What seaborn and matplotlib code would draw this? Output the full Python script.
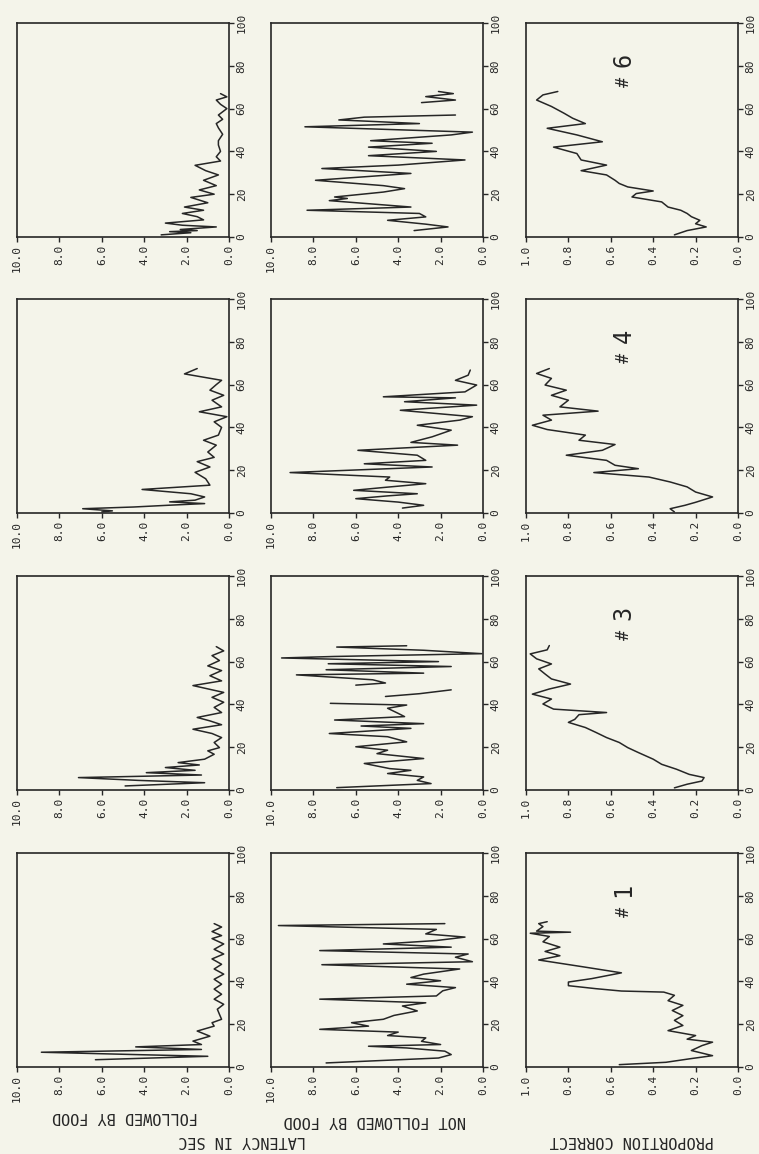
import numpy as np
import pandas as pd
import matplotlib
matplotlib.use('Agg')
import matplotlib.pyplot as plt
import seaborn as sns

nan = np.nan

# ---------------- data (trial number, value) ----------------
# Subject 6
t6_ff = [1, 2, 2.5, 3, 3.5, 4.7, 5.5, 6.5, 8, 9.5, 11, 12.5, 14, 16, 18.5, 20, 22, 24, 26.5, 29, 31, 33.5,
         35.5, 37.5, 40, 43, 45, 48, 51, 53, 55, 57, 60, 62, 64, 65.5, 67]
v6_ff = [3.2, 1.8, 2.8, 1.5, 2.3, 0.6, 2.2, 3.0, 1.2, 1.5, 2.2, 1.2, 2.1, 1.0, 1.8, 0.7, 1.4, 0.6, 1.2, 0.5, 1.1, 1.6,
         0.4, 0.6, 0.4, 0.5, 0.5, 0.3, 0.5, 0.6, 0.3, 0.5, 0.1, 0.4, 0.6, 0.1, 0.4]
t6_nf = [3, 4.7, 6, 7.8, 9.4, 11, 12.5, 14, 17, 18, 18.7, 21, 22.6, 24, 26.5, 29.7, 32, 33.6, 36, 38, 40, 42,
         43.8, 45, 47.7, 49, 51.5, 53, 54, 54.7, 56, 57, nan, 62.8, 64, 65.6, 67, 68]
v6_nf = [3.25, 1.65, 2.7, 4.5, 2.7, 3.0, 8.3, 3.4, 7.25, 6.4, 7.0, 4.7, 3.7, 4.7, 7.9, 3.4, 7.6, 4.0, 0.85, 5.4, 2.2, 5.4,
         2.4, 5.3, 1.5, 0.5, 8.4, 3.0, 5.2, 6.8, 5.6, 1.3, nan, 2.9, 1.3, 2.7, 1.4, 2.1]
t6_pc = [1, 3, 4.7, 6.2, 7.8, 9.5, 11, 12.5, 14, 16.4, 18.7, 20.3, 21.5, 23.4, 25, 26.5, 29, 31, 33.6, 36, 39, 42,
         44.5, 47.7, 50.8, 53, 55.5, 57.8, 61, 64, 66.4, 68]
v6_pc = [0.30, 0.24, 0.15, 0.20, 0.18, 0.22, 0.24, 0.27, 0.33, 0.36, 0.50, 0.48, 0.40, 0.52, 0.56, 0.58, 0.62, 0.74,
         0.62, 0.74, 0.76, 0.87, 0.64, 0.76, 0.90, 0.72, 0.78, 0.82, 0.88, 0.95, 0.92, 0.85]

# Subject 4
t4_ff = [0.5, 1, 2, 2.8, 3.6, 4.4, 5.2, 6, 7.5, 9, 11, 13, 16, 19, 21.5, 24, 26, 28.5, 31.7, 34, 36.4, 40, 42.6,
         45, 47.3, 49.6, 52.7, 55, 57.4, 60, 62, 65, 67.5]
v4_ff = [6.0, 5.5, 6.9, 4.5, 2.9, 1.15, 2.8, 1.6, 1.15, 1.8, 4.1, 0.9, 1.1, 1.6, 0.9, 1.5, 0.7, 1.0, 0.6, 1.2, 0.5,
         0.35, 0.7, 0.1, 1.4, 0.35, 0.8, 0.25, 0.9, 0.6, 0.35, 2.1, 1.5]
t4_nf = [2.3, 3.6, 5.1, 6.7, 8, 9, 10.6, 12, 13.7, 15.3, 16.8, 18.9, 21.5, 23, 24.6, 27, 29.3, 31.7, 33, 35.6, 38.7,
         41, 43.4, 45, 48, 50.4, 52, 53.8, 54.3, 56.6, 59.8, 62, 64.4, 66.8]
v4_nf = [3.8, 2.8, 4.0, 6.0, 4.5, 3.1, 6.1, 4.6, 2.7, 4.6, 4.4, 9.1, 2.4, 5.6, 2.7, 3.1, 5.9, 1.2, 3.4, 2.4, 1.5,
         3.1, 1.1, 0.5, 3.9, 0.3, 3.7, 1.3, 4.7, 0.85, 0.3, 1.3, 0.7, 0.6]
t4_pc = [0.5, 2, 3.6, 5, 7.5, 9.8, 12.2, 14.5, 16.8, 18.9, 20.7, 22.3, 24.6, 27, 29.3, 32, 34, 36.4, 39, 41, 43.4,
         45.7, 47.6, 49.6, 52.7, 55, 57.4, 59.8, 62.9, 65.2, 67.5]
v4_pc = [0.30, 0.32, 0.25, 0.20, 0.12, 0.20, 0.24, 0.32, 0.42, 0.68, 0.47, 0.58, 0.62, 0.81, 0.64, 0.58, 0.75, 0.72,
         0.90, 0.97, 0.88, 0.92, 0.66, 0.84, 0.80, 0.88, 0.81, 0.91, 0.88, 0.95, 0.89]

# Subject 3
t3_ff = [1.9, 3.4, 4.5, 5.8, 7, 8.1, 9.2, 10.5, 11.7, 12.8, 14.4, 16.7, 18.3, 19.8, 22.2, 24.5, 26.4, 28.4, 30.5,
         32.3, 33.9, 36.2, 38.6, 41, 43.3, 45.6, 48.8, 51, 53.4, 55.8, 58, 60.5, 62.8, 65, 67]
v3_ff = [4.9, 1.15, 4.3, 7.1, 1.3, 3.9, 1.6, 3.0, 1.4, 2.4, 1.15, 0.7, 1.0, 0.45, 0.7, 0.35, 0.8, 1.7, 0.35, 0.9,
         1.5, 0.35, 0.7, 0.25, 0.8, 0.25, 1.7, 0.35, 0.9, 0.35, 1.0, 0.45, 0.8, 0.25, 0.6]
t3_nf = [1.1, 3, 4.5, 6.1, 7.7, 9.2, 10, 12.4, 14.7, 17, 18.6, 20.2, 22.5, 24.9, 26.4, 28.8, 29.9, 31, 32.7, 34.3,
         35.8, 38.2, 39.7, 40.5, nan, 43.7, 45, 46.8, nan, 49, 50, 51.5, 53.8, 54.6, 56.2, 57.7, 59, 60, 61.7, 62.4,
         63.7, 65.3, 66.8, 67.4]
v3_nf = [6.9, 2.45, 3.1, 2.8, 4.5, 3.4, 4.4, 5.6, 2.8, 5.0, 4.5, 6.0, 3.6, 4.5, 7.25, 3.4, 5.75, 2.8, 7.0, 3.7,
         4.0, 4.5, 3.6, 7.2, nan, 4.6, 3.0, 1.5, nan, 6.0, 4.6, 5.2, 8.8, 2.8, 7.4, 1.5, 7.3, 2.1, 9.5, 7.0,
         0.05, 2.8, 6.9, 3.6]
t3_pc = [1, 2.7, 4.2, 5.8, 7.3, 9.7, 12, 14.4, 17.5, 19.8, 22.2, 24.5, 26.9, 29.2, 31.6, 33, 35.2, 36.2, 37.8,
         40.2, 42.5, 44.8, 47.2, 49.5, 51.9, 54.2, 56.6, 58.9, 61.3, 63.6, 65.5, 67.5]
v3_pc = [0.30, 0.24, 0.17, 0.16, 0.23, 0.29, 0.36, 0.40, 0.47, 0.52, 0.56, 0.62, 0.67, 0.72, 0.80, 0.77, 0.75,
         0.62, 0.87, 0.92, 0.88, 0.97, 0.89, 0.79, 0.88, 0.91, 0.94, 0.88, 0.95, 0.98, 0.90, 0.89]

# Subject 1
t1_ff = [3.4, 5, 5.8, 6.9, 8.2, 9.4, 10.5, 12.1, 14.4, 16.8, 19.1, 20.7, 22.3, 24.6, 27, 29.3, 31.7, 34, 36.4,
         38.7, 41, 43.4, 45.8, 48, 50.5, 52.8, 55, 57.5, 60, 61.4, 63.3, 65.4, 67]
v1_ff = [6.3, 1.0, 4.4, 8.85, 1.3, 4.4, 1.3, 1.7, 0.9, 1.5, 0.7, 0.8, 0.35, 0.45, 0.55, 0.25, 0.7, 0.35, 0.7,
         0.35, 0.7, 0.25, 0.7, 0.35, 0.8, 0.25, 0.7, 0.25, 0.8, 0.35, 0.8, 0.35, 0.7]
t1_nf = [1.9, 4.2, 5.8, 7.4, 8.9, 9.7, 10.5, 12, 13.6, 14.7, 16.3, 17.6, 19.1, 20.7, 22.3, 24.1, 26.2, 28.5, 30,
         31.7, 33.2, 35.6, 37.1, 38.7, 40.3, 41.8, 43.4, 45.8, 47.8, 49.2, 51.3, 52.8, 54.4, 56, 57.5, 59.1, 60.7,
         62.2, 64.3, 66.1, 67]
v1_nf = [7.4, 2.1, 1.5, 1.8, 3.6, 5.4, 2.0, 2.9, 2.7, 4.5, 4.0, 7.7, 5.4, 6.2, 4.7, 4.2, 3.1, 3.8, 2.7, 7.7, 2.2,
         1.9, 1.3, 3.6, 2.0, 3.4, 2.8, 1.1, 7.6, 0.5, 1.3, 0.7, 7.7, 1.5, 4.7, 2.2, 0.85, 2.7, 2.2, 9.65, 1.8]
t1_pc = [1.1, 2.2, 3.8, 5.3, 7.7, 10, 11.6, 13, 14.7, 17, 19.4, 21.8, 24, 26.4, 28.8, 31, 33.5, 35, 35.5, 36.6,
         38, 39.7, 41.3, 44, 46.8, 50, 52, 54, 56, 58.5, 61, 62.5, 63, 63.5, 65.6, 67, 67.9]
v1_pc = [0.56, 0.34, 0.23, 0.12, 0.22, 0.17, 0.12, 0.24, 0.20, 0.33, 0.26, 0.30, 0.26, 0.31, 0.26, 0.33, 0.30,
         0.35, 0.55, 0.67, 0.80, 0.80, 0.69, 0.55, 0.73, 0.94, 0.84, 0.91, 0.84, 0.92, 0.89, 0.98, 0.79, 0.95,
         0.92, 0.94, 0.90]

subjects = ['6', '4', '3', '1']           # top row to bottom row
series = [
    [(t6_ff, v6_ff), (t6_nf, v6_nf), (t6_pc, v6_pc)],
    [(t4_ff, v4_ff), (t4_nf, v4_nf), (t4_pc, v4_pc)],
    [(t3_ff, v3_ff), (t3_nf, v3_nf), (t3_pc, v3_pc)],
    [(t1_ff, v1_ff), (t1_nf, v1_nf), (t1_pc, v1_pc)],
]
lat_ticks = [10, 8, 6, 4, 2, 0]
lat_labels = ['10.0', '8.0', '6.0', '4.0', '2.0', '0.0']
pc_ticks = [1.0, 0.8, 0.6, 0.4, 0.2, 0.0]
pc_labels = ['1.0', '0.8', '0.6', '0.4', '0.2', '0.0']
trial_ticks = [0, 20, 40, 60, 80, 100]
trial_labels = ['0', '20', '40', '60', '80', '100']

# ---------------- style ----------------
sns.set_theme(style='white')
plt.rcParams['font.family'] = ['DejaVu Sans Mono']
BG = '#f4f4ea'
INK = '#262626'

FW, FH = 759, 1154
fig = plt.figure(figsize=(FW / 100, FH / 100), dpi=100, facecolor=BG)

col_left = [17, 271, 526]
row_top = [23, 299, 576, 853]
PW, PH = 212, 214


def draw(ax, t, v):
    t = np.asarray(t, float)
    v = np.asarray(v, float)
    gap = np.isnan(t) | np.isnan(v)
    df = pd.DataFrame({'trial': t, 'value': v, 'seg': np.cumsum(gap)})[~gap]
    sns.lineplot(data=df, x='value', y='trial', units='seg', estimator=None, sort=False,
                 ax=ax, color=INK, linewidth=1.1, legend=False)


for r, subj in enumerate(subjects):
    for c in range(3):
        ax = fig.add_axes([col_left[c] / FW, 1 - (row_top[r] + PH) / FH, PW / FW, PH / FH])
        ax.set_facecolor(BG)
        t, v = series[r][c]
        draw(ax, t, v)
        if c < 2:
            ax.set_xlim(10, 0)
            ax.set_xticks(lat_ticks)
            ax.set_xticklabels(lat_labels, rotation=90)
        else:
            ax.set_xlim(1.0, 0)
            ax.set_xticks(pc_ticks)
            ax.set_xticklabels(pc_labels, rotation=90)
            ax.text(0.54, 72.5, '#', rotation=90, ha='center', va='center', fontsize=12, color=INK)
            ax.text(0.54, 83, subj, rotation=90, ha='center', va='center', fontsize=17, color=INK)
        ax.set_ylim(0, 100)
        ax.yaxis.tick_right()
        ax.set_yticks(trial_ticks)
        ax.set_yticklabels(trial_labels, rotation=90, va='center')
        ax.set_xlabel('')
        ax.set_ylabel('')
        ax.tick_params(direction='out', length=3.5, width=1, colors=INK, labelsize=8, pad=2,
                       bottom=True, right=True, left=False, top=False)
        for sp in ax.spines.values():
            sp.set_linewidth(1.2)
            sp.set_color(INK)

# upside-down axis titles (page is rotated)
def ftext(x, y, s):
    fig.text(x / FW, 1 - y / FH, s, rotation=180, ha='center', va='center', fontsize=11, color=INK)

ftext(125, 1116, 'FOLLOWED BY FOOD')
ftext(375, 1121, 'NOT FOLLOWED BY FOOD')
ftext(242, 1140, 'LATENCY IN SEC')
ftext(632, 1140, 'PROPORTION CORRECT')

fig.savefig('out.png', dpi=100, facecolor=BG)
